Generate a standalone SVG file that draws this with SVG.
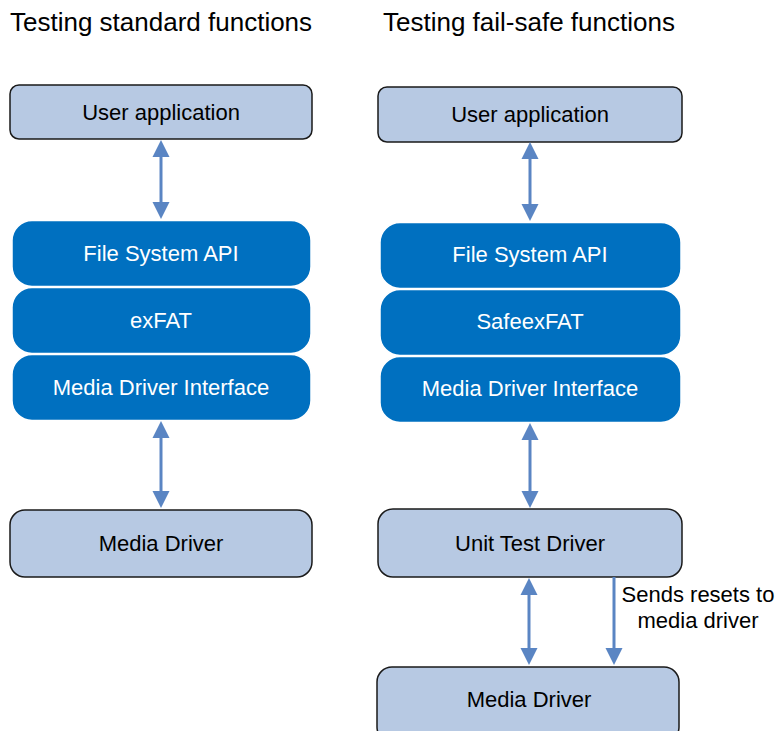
<svg xmlns="http://www.w3.org/2000/svg" width="779" height="731" viewBox="0 0 779 731">
<style>
text{font-family:"Liberation Sans",Arial,sans-serif}
.title{font-size:26px;fill:#000}
.lbl{font-size:22px;text-anchor:middle}
.dark{fill:#000}
.white{fill:#fff}
.light{fill:#B7C9E3;stroke:#1a1a1a;stroke-width:1.5}
.blue{fill:#0070C0;stroke:#fff;stroke-width:1.5}
.conn line{stroke:#5A85C3;stroke-width:3}
.conn polygon{fill:#5A85C3}
</style>
<rect width="779" height="731" fill="#fff"/>
<text class="title" x="10" y="31">Testing standard functions</text>
<text class="title" x="383" y="31">Testing fail-safe functions</text>

<g id="l-user"><rect class="light" x="10" y="85" width="302" height="54" rx="9"/><text class="lbl dark" x="161" y="120">User application</text></g>
<g id="l-fsapi"><rect class="blue" x="12" y="220.5" width="299" height="66" rx="20"/><text class="lbl white" x="161" y="261">File System API</text></g>
<g id="l-exfat"><rect class="blue" x="12" y="287.5" width="299" height="66" rx="20"/><text class="lbl white" x="161" y="328">exFAT</text></g>
<g id="l-mdi"><rect class="blue" x="12" y="354.5" width="299" height="66" rx="20"/><text class="lbl white" x="161" y="395">Media Driver Interface</text></g>
<g id="l-media"><rect class="light" x="10" y="510" width="302" height="67" rx="15"/><text class="lbl dark" x="161" y="551">Media Driver</text></g>

<g id="r-user"><rect class="light" x="378" y="87" width="304" height="55" rx="9"/><text class="lbl dark" x="530" y="122">User application</text></g>
<g id="r-fsapi"><rect class="blue" x="380" y="222.5" width="301" height="66" rx="20"/><text class="lbl white" x="530" y="262">File System API</text></g>
<g id="r-safe"><rect class="blue" x="380" y="289.5" width="301" height="66" rx="20"/><text class="lbl white" x="530" y="329">SafeexFAT</text></g>
<g id="r-mdi"><rect class="blue" x="380" y="356.5" width="301" height="66" rx="20"/><text class="lbl white" x="530" y="396">Media Driver Interface</text></g>
<g id="r-utd"><rect class="light" x="378" y="509" width="304" height="68" rx="15"/><text class="lbl dark" x="530" y="551">Unit Test Driver</text></g>
<g id="r-media"><rect class="light" x="377" y="667" width="302" height="75" rx="15"/><text class="lbl dark" x="529" y="707">Media Driver</text></g>

<g id="connectors" class="conn">
<line x1="161" y1="155" x2="161" y2="204"/>
<polygon points="161,140 152.5,157 169.5,157"/>
<polygon points="161,219 152.5,202 169.5,202"/>
<line x1="161" y1="436" x2="161" y2="493"/>
<polygon points="161,421 152.5,438 169.5,438"/>
<polygon points="161,508 152.5,491 169.5,491"/>
<line x1="530" y1="157" x2="530" y2="206"/>
<polygon points="530,142 521.5,159 538.5,159"/>
<polygon points="530,221 521.5,204 538.5,204"/>
<line x1="530" y1="438" x2="530" y2="493"/>
<polygon points="530,423 521.5,440 538.5,440"/>
<polygon points="530,508 521.5,491 538.5,491"/>
<line x1="529" y1="593" x2="529" y2="650"/>
<polygon points="529,578 520.5,595 537.5,595"/>
<polygon points="529,665 520.5,648 537.5,648"/>
<line x1="614" y1="577" x2="614" y2="650"/>
<polygon points="614,665 605.5,648 622.5,648"/>
</g>
<text class="lbl dark" x="698" y="602">Sends resets to</text>
<text class="lbl dark" x="698" y="628">media driver</text>
</svg>
